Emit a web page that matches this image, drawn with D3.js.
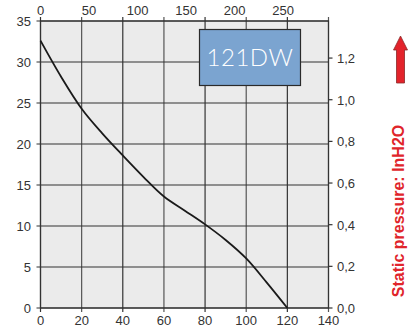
<!DOCTYPE html>
<html><head><meta charset="utf-8">
<script src="https://cdn.jsdelivr.net/npm/d3@7"></script>
<style>
html,body{margin:0;padding:0;background:#fff;}
svg text{font-family:"Liberation Sans",Arial,sans-serif;}
</style></head>
<body><svg id="c" width="408" height="327"></svg>
<script>
// Airflow in l/s (bottom), static pressure in mmH2O (left)
const flowLs = [0, 10, 20, 30, 40, 50, 60, 70, 80, 90, 100, 110, 120];
const pressureMm = [32.6, 28.2, 24.3, 21.3, 18.6, 16.0, 13.6, 11.9, 10.2, 8.3, 6.05, 3.1, 0];
const bottomTicks = [0, 20, 40, 60, 80, 100, 120, 140];
const leftTicks = [0, 5, 10, 15, 20, 25, 30, 35];
const topTicks = [0, 50, 100, 150, 200, 250];            // CFM
const rightTicks = [0, 0.2, 0.4, 0.6, 0.8, 1.0, 1.2];    // inH2O
const modelLabel = "121DW";
const sideTitle = "Static pressure: InH2O";

const svg = d3.select("#c");
const L = 40.5, R = 328.5, T = 21, B = 308;
const x = d3.scaleLinear().domain([0, 140]).range([L, R]);
const y = d3.scaleLinear().domain([0, 35]).range([B, T]);
const xTop = d3.scaleLinear().domain([0, 140 * 2.11888]).range([L, R]);
const yRight = d3.scaleLinear().domain([0, 35 / 25.4]).range([B, T]);

svg.append("rect").attr("x", L).attr("y", T).attr("width", R - L).attr("height", B - T).attr("fill", "#ebebeb");

const fmt = d3.format(".1f");
const tickFont = "13px";
const tickCol = "#333";

const g = svg.append("g");
g.selectAll(".vx").data(bottomTicks).join("line")
  .attr("x1", d => x(d)).attr("x2", d => x(d)).attr("y1", T - 4).attr("y2", B + 4)
  .attr("stroke", (d, i) => i % 2 ? "#555" : "#333").attr("stroke-width", 1.2);
g.selectAll(".hy").data(leftTicks).join("line")
  .attr("x1", L - 4).attr("x2", R).attr("y1", d => y(d)).attr("y2", d => y(d))
  .attr("stroke", "#333").attr("stroke-width", 1.2);
g.selectAll(".rt").data(rightTicks).join("line")
  .attr("x1", R).attr("x2", R + 4).attr("y1", d => yRight(d)).attr("y2", d => yRight(d))
  .attr("stroke", "#333").attr("stroke-width", 1.2);

svg.append("rect").attr("x", L).attr("y", T).attr("width", R - L).attr("height", B - T)
  .attr("fill", "none").attr("stroke", "#333").attr("stroke-width", 1.2);

svg.append("g").selectAll("text").data(bottomTicks).join("text")
  .attr("x", d => x(d)).attr("y", B + 17).attr("text-anchor", "middle")
  .attr("font-size", tickFont).attr("fill", tickCol).text(d => d);
svg.append("g").selectAll("text").data(topTicks).join("text")
  .attr("x", d => xTop(d)).attr("y", 15).attr("text-anchor", "middle")
  .attr("font-size", tickFont).attr("fill", tickCol).text(d => d);
svg.append("g").selectAll("text").data(leftTicks).join("text")
  .attr("x", 31).attr("y", d => y(d) + 5).attr("text-anchor", "end")
  .attr("font-size", tickFont).attr("fill", tickCol).text(d => d);
svg.append("g").selectAll("text").data(rightTicks).join("text")
  .attr("x", 337).attr("y", d => yRight(d) + 5).attr("text-anchor", "start")
  .attr("font-size", tickFont).attr("fill", tickCol).text(d => fmt(d).replace(".", ","));

const pts = flowLs.map((f, i) => [f, pressureMm[i]]);
svg.append("path").datum(pts)
  .attr("d", d3.line().x(d => x(d[0])).y(d => y(d[1])).curve(d3.curveCatmullRom.alpha(0.5)))
  .attr("fill", "none").attr("stroke", "#1a1a1a").attr("stroke-width", 1.8);

svg.append("rect").attr("x", 199.5).attr("y", 29.5).attr("width", 101).attr("height", 56)
  .attr("fill", "#7ba4d0").attr("stroke", "#2a2a2a").attr("stroke-width", 1.2);
svg.append("text").attr("x", 250).attr("y", 66).attr("text-anchor", "middle")
  .attr("font-size", "24px").attr("fill", "#fff").style("font-family", "Lato, 'Open Sans', sans-serif")
  .attr("font-weight", 300).attr("letter-spacing", "0.5px").text(modelLabel);

svg.append("path")
  .attr("d", "M400.5,36 L407.5,50 L404.5,50 L404.5,83 L396.5,83 L396.5,50 L393.5,50 Z")
  .attr("fill", "#e3232b").attr("stroke", "#8a2a2a").attr("stroke-width", 0.8);

svg.append("text").attr("transform", "translate(404,211) rotate(-90)")
  .attr("text-anchor", "middle").attr("font-size", "16px").attr("font-weight", "bold")
  .attr("fill", "#e0252b").text(sideTitle);
</script></body></html>
